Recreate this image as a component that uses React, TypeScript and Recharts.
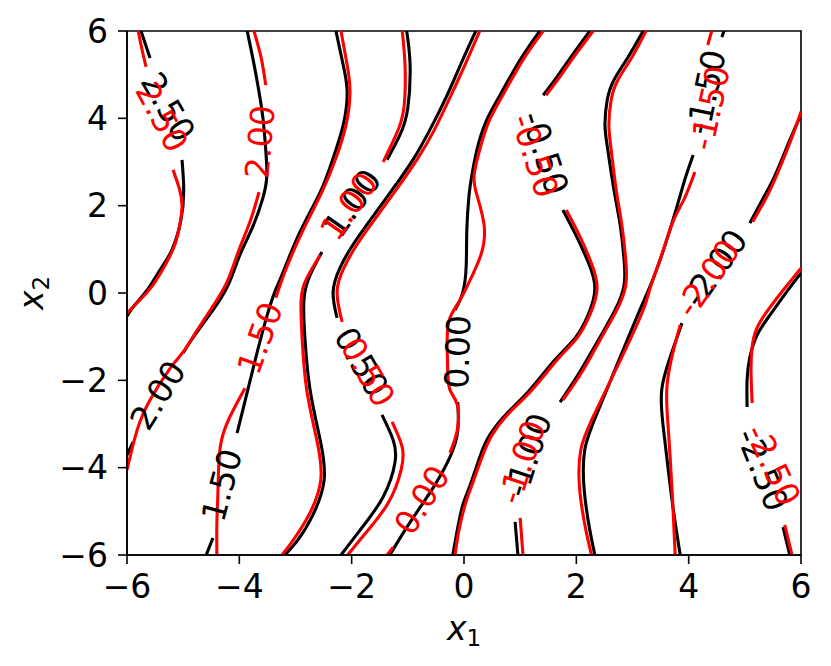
import { LineChart, Line, XAxis, YAxis, ReferenceDot, ReferenceArea } from 'recharts';

type Pt = [number, number] | null;

// black = true contours, red = approximation. null = gap left for the inline label
const black250: Pt[] = [[-5.75, 6], [-5.59, 5.38], null, [-5.02, 3.05], [-4.99, 2.36], [-5.04, 1.67], [-5.2, 0.99], [-5.41, 0.53], [-5.64, 0.07], [-5.86, -0.27], [-6, -0.53]];
const red250: Pt[] = [[-5.8, 6], [-5.73, 5.56], [-5.66, 5.18], null, [-5.18, 2.82], [-5.07, 2.4], [-5.02, 2.02], [-5.06, 1.56], [-5.15, 1.1], [-5.32, 0.64], [-5.54, 0.18], [-5.77, -0.16], [-6, -0.46]];

const black200: Pt[] = [[-3.86, 6], [-3.76, 5.38], [-3.67, 4.76], [-3.58, 4.01], [-3.53, 3.28], [-3.51, 2.7], [-3.58, 2.18], [-3.77, 1.49], [-3.99, 0.87], [-4.2, 0.18], [-4.47, -0.39], [-4.79, -0.96], [-5.0, -1.37], null, [-5.89, -3.41], [-6, -3.71]];
const red200: Pt[] = [[-3.74, 6], [-3.61, 5.38], [-3.53, 4.76], null, [-3.65, 2.31], [-3.81, 1.63], [-4.02, 0.94], [-4.22, 0.25], [-4.49, -0.34], [-4.77, -0.89], [-5.0, -1.35], [-5.23, -1.72], [-5.59, -2.45], [-5.82, -3.14], [-6, -4.05]];

const black150: Pt[] = [[-2.28, 6], [-2.15, 5.22], [-2.08, 4.6], [-2.15, 3.85], [-2.33, 3.09], [-2.56, 2.31], [-2.92, 1.4], [-3.22, 0.48], [-3.37, 0.02], [-3.53, -0.62], [-3.74, -1.65], [-4.04, -3.21], null, [-4.47, -5.61], [-4.59, -6]];
const red150: Pt[] = [[-2.19, 6], [-2.08, 5.22], [-2.03, 4.6], [-2.1, 3.85], [-2.28, 3.09], [-2.53, 2.31], [-2.88, 1.4], [-3.19, 0.48], [-3.35, -0.11], null, [-3.9, -2.18], [-4.17, -2.84], [-4.34, -3.53], [-4.38, -4.51], [-4.4, -5.27], [-4.4, -6]];

const black100: Pt[] = [[-1.02, 6], [-0.96, 5.22], [-1.0, 4.24], [-1.14, 3.62], [-1.37, 3.05], null, [-2.53, 0.94], [-2.74, 0.41], [-2.85, -0.16], [-2.83, -1.08], [-2.74, -2.22], [-2.56, -3.37], [-2.49, -4.28], [-2.69, -5.08], [-2.96, -5.66], [-3.19, -6]];
const red100: Pt[] = [[-1.1, 6], [-1.05, 5.22], [-1.07, 4.24], [-1.21, 3.62], [-1.44, 3.0], null, [-2.56, 0.87], [-2.8, 0.34], [-2.9, -0.16], [-2.88, -1.08], [-2.8, -2.22], [-2.62, -3.37], [-2.55, -4.28], [-2.76, -5.08], [-3.04, -5.66], [-3.24, -6]];

const black050: Pt[] = [[0.21, 6], [-0.04, 5.29], [-0.3, 4.53], [-0.61, 3.73], [-0.91, 3.05], [-1.28, 2.36], [-1.67, 1.67], [-1.98, 1.1], [-2.21, 0.57], [-2.33, 0.02], [-2.26, -0.57], null, [-1.46, -2.79], [-1.26, -3.37], [-1.23, -3.89], [-1.44, -4.67], [-1.85, -5.43], [-2.19, -6]];
const red050: Pt[] = [[0.28, 6], [0.04, 5.29], [-0.23, 4.53], [-0.53, 3.73], [-0.84, 3.05], [-1.21, 2.36], [-1.6, 1.67], [-1.91, 1.1], [-2.14, 0.57], [-2.26, 0.02], [-2.17, -0.66], null, [-1.28, -2.95], [-1.1, -3.53], [-1.12, -4.05], [-1.35, -4.81], [-1.78, -5.54], [-2.07, -6]];

const black000: Pt[] = [[1.35, 6], [1.0, 5.34], [0.64, 4.53], [0.39, 3.92], [0.23, 3.28], [0.14, 2.7], [0.09, 2.24], [0.05, 1.44], [0.04, 0.64], [-0.02, 0.02], [-0.16, -0.39], null, [-0.11, -2.5], [-0.11, -3.14], [-0.25, -3.76], [-0.52, -4.4], [-0.73, -4.81], [-1.05, -5.43], [-1.32, -6]];
const red000: Pt[] = [[1.41, 6], [1.05, 5.34], [0.69, 4.53], [0.44, 3.92], [0.28, 3.28], [0.18, 2.7], [0.23, 2.24], [0.36, 1.53], [0.3, 0.87], [0.11, 0.3], [-0.07, -0.16], [-0.25, -0.57], [-0.3, -1.08], [-0.29, -1.76], [-0.25, -2.22], [-0.12, -2.56], [-0.12, -3.14], [-0.25, -3.66], null, [-1.26, -5.82], [-1.37, -6]];

const blackM050: Pt[] = [[2.24, 6], [1.89, 5.38], [1.64, 4.92], [1.41, 4.53], null, [1.76, 1.9], [1.99, 1.33], [2.21, 0.71], [2.33, 0.11], [2.21, -0.5], [1.98, -1.03], [1.62, -1.53], [1.17, -2.22], [0.77, -2.75], [0.46, -3.25], [0.28, -3.76], [0.11, -4.4], [-0.02, -4.85], [-0.12, -5.43], [-0.2, -6]];
const redM050: Pt[] = [[2.3, 6], [1.94, 5.38], [1.69, 4.92], [1.46, 4.53], null, [1.82, 1.9], [2.05, 1.33], [2.26, 0.71], [2.37, 0.11], [2.24, -0.5], [2.01, -1.03], [1.66, -1.53], [1.21, -2.22], [0.8, -2.75], [0.5, -3.25], [0.32, -3.76], [0.14, -4.4], [0.02, -4.85], [-0.09, -5.43], [-0.16, -6]];

const blackM100: Pt[] = [[3.19, 6], [2.92, 5.4], [2.67, 4.88], [2.55, 4.42], [2.51, 3.85], [2.56, 3.28], [2.67, 2.36], [2.78, 1.56], [2.85, 0.76], [2.85, 0.18], [2.69, -0.39], [2.39, -1.08], [2.06, -1.81], [1.71, -2.5], null, [0.91, -5.24], [0.96, -6]];
const redM100: Pt[] = [[3.24, 6], [2.99, 5.4], [2.74, 4.88], [2.62, 4.42], [2.58, 3.85], [2.62, 3.28], [2.71, 2.36], [2.81, 1.56], [2.88, 0.76], [2.88, 0.18], [2.72, -0.39], [2.42, -1.08], [2.1, -1.81], [1.76, -2.45], null, [1.0, -5.15], [1.05, -6]];

const blackM150: Pt[] = [[4.63, 6], [4.59, 5.86], null, [4.08, 3.16], [3.93, 2.59], [3.79, 1.97], [3.58, 1.1], [3.36, 0.3], [3.13, -0.39], [2.78, -1.47], [2.37, -2.75], [2.15, -3.59], [2.14, -4.51], [2.24, -5.43], [2.33, -6]];
const redM150: Pt[] = [[4.41, 6], [4.34, 5.68], null, [4.11, 2.77], [3.93, 2.18], [3.72, 1.63], [3.52, 0.87], [3.33, 0.18], [3.19, -0.39], [2.81, -1.47], [2.33, -2.75], [2.08, -3.59], [2.06, -4.51], [2.17, -5.43], [2.27, -6]];

const blackM200: Pt[] = [[6, 4.08], [5.8, 3.5], [5.54, 2.7], [5.31, 2.13], [5.09, 1.6], null, [3.88, -0.69], [3.67, -1.47], [3.52, -2.22], [3.54, -2.98], [3.61, -3.76], [3.72, -4.9], [3.85, -6]];
const redM200: Pt[] = [[6, 4.15], [5.84, 3.57], [5.59, 2.77], [5.38, 2.18], [5.14, 1.63], null, [3.85, -0.73], [3.7, -1.47], [3.61, -2.22], [3.63, -2.98], [3.67, -3.76], [3.72, -4.9], [3.76, -6]];

const blackM250: Pt[] = [[6, 0.46], [5.77, 0.07], [5.45, -0.5], [5.22, -0.96], [5.09, -1.47], [5.04, -1.99], [5.04, -2.61], null, [5.68, -5.36], [5.8, -6]];
const redM250: Pt[] = [[6, 0.57], [5.71, 0.11], [5.39, -0.43], [5.2, -0.85], [5.13, -1.24], [5.11, -1.76], [5.13, -2.52], null, [5.71, -5.31], [5.84, -6]];

// inline contour labels: [text, x, y, rotation in degrees]
const blackLabels: [string, number, number, number][] = [
  ['2.50', -5.27, 4.26, 60],
  ['2.00', -5.45, -2.34, -58],
  ['1.50', -4.31, -4.4, -75],
  ['1.00', -1.99, 2.06, -55],
  ['0.50', -1.83, -1.58, 60],
  ['0.00', -0.11, -1.35, -88],
  ['-0.50', 1.44, 3.21, 72],
  ['-1.00', 1.14, -3.71, -72],
  ['-1.50', 4.31, 4.6, -78],
  ['-2.00', 4.47, 0.57, -55],
  ['-2.50', 5.31, -4.05, 68],
];
const redLabels: [string, number, number, number][] = [
  ['2.50', -5.38, 4.03, 62],
  ['2.00', -3.63, 3.46, -85],
  ['1.50', -3.63, -1.03, -70],
  ['1.00', -2.05, 1.99, -55],
  ['0.50', -1.71, -1.81, 60],
  ['0.00', -0.75, -4.74, -58],
  ['-0.50', 1.26, 3.14, 72],
  ['-1.00', 1.03, -3.87, -72],
  ['-1.50', 4.38, 4.24, -78],
  ['-2.00', 4.34, 0.34, -55],
  ['-2.50', 5.5, -3.94, 65],
];

const ticks = [-6, -4, -2, 0, 2, 4, 6];

const blackLines = [black250, black200, black150, black100, black050, black000, blackM050, blackM100, blackM150, blackM200, blackM250];
const redLines = [red250, red200, red150, red100, red050, red000, redM050, redM100, redM150, redM200, redM250];

const toSeries = (pts: Pt[]) =>
  pts.map((p, i) => (p ? { x: p[0], y: p[1] } : { x: (pts[i - 1] as [number, number])[0], y: null }));

const FONT = 'DejaVu Sans';
const fmt = (v: number) => (v < 0 ? `\u2212${Math.abs(v)}` : `${v}`);

const renderLabel = (text: string, angle: number, color: string) => (props: any) => {
  const { cx, cy } = props;
  return (
    <text
      x={cx}
      y={cy}
      transform={`rotate(${angle} ${cx} ${cy})`}
      textAnchor="middle"
      dominantBaseline="central"
      fontSize={33}
      fontFamily={FONT}
      fill={color}
    >
      {text}
    </text>
  );
};

const XLabel = () => (
  <text x={464} y={640} textAnchor="middle" fontFamily={FONT} fontSize={33} fill="#000">
    <tspan fontStyle="italic">x</tspan>
    <tspan fontSize={23} dy={6}>1</tspan>
  </text>
);

const YLabel = () => (
  <text x={43} y={293} transform="rotate(-90 43 293)" textAnchor="middle" fontFamily={FONT} fontSize={33} fill="#000">
    <tspan fontStyle="italic">x</tspan>
    <tspan fontSize={23} dy={6}>2</tspan>
  </text>
);

const App = () => {
  return (
    <div style={{ position: 'absolute', left: 0, top: 0, width: 831, height: 666, background: '#fff' }}>
      <LineChart width={831} height={666} margin={{ top: 31, right: 30, bottom: 0, left: 0 }} style={{ fontFamily: FONT }}>
        <XAxis
          type="number"
          dataKey="x"
          domain={[-6, 6]}
          ticks={ticks}
          tickFormatter={fmt}
          allowDataOverflow
          height={111}
          tickSize={9}
          tickMargin={11}
          tick={{ fontSize: 33, fill: '#000', fontFamily: FONT }}
          tickLine={{ stroke: '#000', strokeWidth: 1.6 }}
          axisLine={{ stroke: '#000', strokeWidth: 1.6 }}
          label={{ content: XLabel }}
        />
        <YAxis
          type="number"
          dataKey="y"
          domain={[-6, 6]}
          ticks={ticks}
          tickFormatter={fmt}
          allowDataOverflow
          width={127}
          tickSize={9}
          tickMargin={10}
          tick={{ fontSize: 33, fill: '#000', fontFamily: FONT }}
          tickLine={{ stroke: '#000', strokeWidth: 1.6 }}
          axisLine={{ stroke: '#000', strokeWidth: 1.6 }}
          label={{ content: YLabel }}
        />
        {blackLines.map((pts, i) => (
          <Line
            key={`b${i}`}
            data={toSeries(pts)}
            dataKey="y"
            type="natural"
            stroke="#000"
            strokeWidth={3.1}
            dot={false}
            activeDot={false}
            isAnimationActive={false}
          />
        ))}
        {redLines.map((pts, i) => (
          <Line
            key={`r${i}`}
            data={toSeries(pts)}
            dataKey="y"
            type="natural"
            stroke="#ff0000"
            strokeWidth={3.1}
            dot={false}
            activeDot={false}
            isAnimationActive={false}
          />
        ))}
        {blackLabels.map(([t, x, y, a]) => (
          <ReferenceDot key={`bl${t}`} x={x} y={y} r={0} ifOverflow="visible" shape={renderLabel(t, a, '#000')} />
        ))}
        {redLabels.map(([t, x, y, a]) => (
          <ReferenceDot key={`rl${t}`} x={x} y={y} r={0} ifOverflow="visible" shape={renderLabel(t, a, '#ff0000')} />
        ))}
        <ReferenceArea x1={-6} x2={6} y1={-6} y2={6} fill="none" fillOpacity={0} stroke="#000" strokeWidth={1.6} />
      </LineChart>
    </div>
  );
};

export default App;
